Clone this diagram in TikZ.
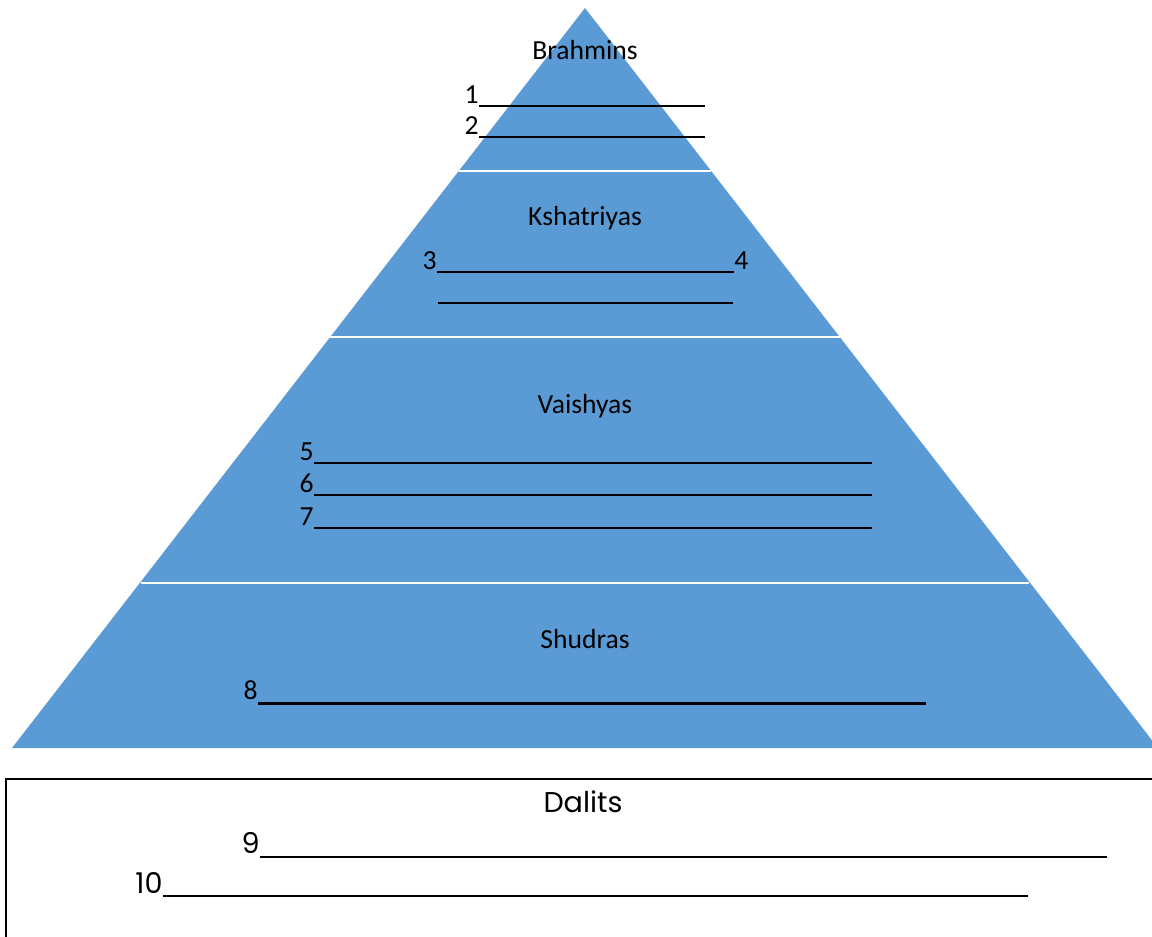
\documentclass[tikz,border=0pt]{standalone}
\usepackage{fontspec}
\setmainfont{Carlito}
\newfontfamily\dalitfont{Poppins}
\usepackage{tikz}
\definecolor{pyrblue}{HTML}{5B9BD5}

\begin{document}
\begin{tikzpicture}[x=0.5pt, y=-0.5pt,
    every node/.style={inner sep=0pt, font=\fontsize{13.8}{16}\selectfont},
    caste/.style={anchor=base},
    num/.style={anchor=base east},
    blank/.style={line width=1pt, black},
    gap/.style={line width=1.3pt, white},
    dalit/.style={font=\dalitfont\fontsize{14.3}{17}\selectfont}]
    \useasboundingbox (0,0) rectangle (1152,937);
    \clip (0,0) rectangle (1152,937);

    % Pyramid with white gaps between the layers
    \fill[pyrblue] (585,8) -- (12,748) -- (1158,748) -- cycle;
    \draw[gap] (459,171) -- (711,171);
    \draw[gap] (330,337) -- (840,337);
    \draw[gap] (141,583) -- (1029,583);

    % Brahmins
    \node[caste] (brahmins) at (585,60) {Brahmins};
    \node[num] (n1) at (479,103) {1};
    \draw[blank] ([yshift=-1.5pt]n1.base east) -- ++(226,0);
    \node[num] (n2) at (479,134) {2};
    \draw[blank] ([yshift=-1.5pt]n2.base east) -- ++(226,0);

    % Kshatriyas
    \node[caste] (kshatriyas) at (585,225) {Kshatriyas};
    \node[num] (n3) at (437,269) {3};
    \node[anchor=base west] (n4) at (734,269) {4};
    \draw[blank] ([yshift=-1.5pt]n3.base east) -- ([yshift=-1.5pt]n4.base west);
    \coordinate (k2) at (438,303);
    \draw[blank] (k2) -- ++(295,0);

    % Vaishyas
    \node[caste] (vaishyas) at (585,413) {Vaishyas};
    \foreach \n/\y in {5/460, 6/492, 7/525} {
        \node[num] (n\n) at (314,\y) {\n};
        \draw[blank] ([yshift=-1.5pt]n\n.base east) -- ++(558,0);
    }

    % Shudras
    \node[caste] (shudras) at (585,648) {Shudras};
    \node[num] (n8) at (258,699) {8};
    \draw[blank, line width=1.5pt] ([yshift=-2pt]n8.base east) -- ++(668,0);

    % Dalits box
    \draw[line width=1pt] (6,779) rectangle (1170,960);
    \node[caste, dalit] (dalits) at (583,812) {Dalits};
    \node[num, dalit] (n9) at (260,853) {9};
    \draw[blank, line width=1.2pt] ([yshift=-2pt]n9.base east) -- ++(847,0);
    \node[num, dalit] (n10) at (163,893) {10};
    \draw[blank, line width=1.2pt] ([yshift=-1.5pt]n10.base east) -- ++(865,0);

\end{tikzpicture}
\end{document}
